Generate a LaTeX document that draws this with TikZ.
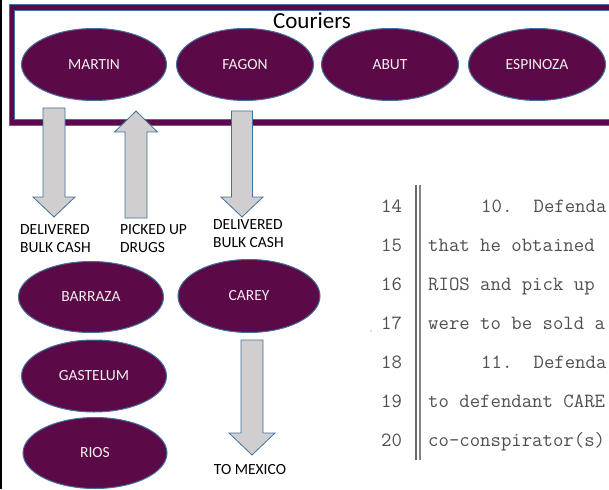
\documentclass[tikz,border=0pt]{standalone}
\usepackage{fontspec}
\setmainfont{Carlito}
\usetikzlibrary{shapes.geometric}

\definecolor{plum}{HTML}{5C0A47}
\definecolor{rimblue}{HTML}{41719C}
\definecolor{shaftgray}{HTML}{D0CECE}
\definecolor{scanink}{HTML}{505050}

\tikzset{
  courier/.style={ellipse, draw=rimblue, line width=1pt, fill=plum,
    text=white!94!black, inner sep=0pt,
    font=\fontsize{15.5}{18}\selectfont},
  tag/.style={anchor=north west, align=left, inner sep=0pt,
    font=\fontsize{15.5}{18.5}\selectfont},
  blockarrow/.style={fill=shaftgray, draw=rimblue, line width=0.8pt,
    line join=miter},
  scantext/.style={anchor=base west, inner sep=0pt, text=scanink,
    font=\ttfamily\fontsize{20.2}{20.2}\selectfont},
  scanrule/.style={draw=scanink!85, line width=1.6pt},
}

% block arrow: centre x, shaft end, head base, tip, shaft half width, head half width
\newcommand\blockarrow[6]{%
  \draw[blockarrow] (#1-#5,#2) -- (#1+#5,#2) -- (#1+#5,#3) -- (#1+#6,#3)
    -- (#1,#4) -- (#1-#6,#3) -- (#1-#5,#3) -- cycle;}

\begin{document}
\begin{tikzpicture}[x=1pt, y=-1pt]
  \useasboundingbox (0,0) rectangle (609,489);
  \clip (0,0) rectangle (609,489);
  \fill[white] (0,0) rectangle (609,489);

  % left page edge
  \draw[black, line width=2pt] (1,0) -- (1,489);

  % couriers frame: purple band with thin blue rims
  \draw[plum, line width=5.6pt] (12,7.6) rectangle (640,122.2);
  \draw[rimblue, line width=0.7pt] (9.2,4.8) rectangle (640,125);
  \draw[rimblue, line width=0.7pt] (14.8,10.4) rectangle (640,119.4);
  \node[anchor=base, inner sep=0pt, font=\fontsize{23}{23}\selectfont]
    (title) at (312,29) {Couriers};

  % couriers
  \node[courier, minimum width=145pt, minimum height=72pt] (martin)   at (94,64.5)  {MARTIN};
  \node[courier, minimum width=137pt, minimum height=72pt] (fagon)    at (245,64.5) {FAGON};
  \node[courier, minimum width=137pt, minimum height=72pt] (abut)     at (390,64.5) {ABUT};
  \node[courier, minimum width=137pt, minimum height=72pt] (espinoza) at (537,64.5) {ESPINOZA};

  % receivers and suppliers
  \node[courier, minimum width=145pt, minimum height=71pt] (barraza)  at (91,297)  {BARRAZA};
  \node[courier, minimum width=142pt, minimum height=73pt] (carey)    at (249,296) {CAREY};
  \node[courier, minimum width=145pt, minimum height=72pt] (gastelum) at (94,376)  {GASTELUM};
  \node[courier, minimum width=144pt, minimum height=71pt] (rios)     at (95,453)  {RIOS};

  % movement arrows
  \blockarrow{54}{108}{197}{217}{11}{21}
  \blockarrow{136}{218}{132}{111}{11}{21.5}
  \blockarrow{242}{111}{197}{217}{10.5}{21}
  \blockarrow{252}{340}{433}{455}{11}{23}

  % arrow captions
  \node[tag] (cash1) at (20,224)  {DELIVERED\\BULK CASH};
  \node[tag] (drugs) at (120,224) {PICKED UP\\DRUGS};
  \node[tag] (cash2) at (213,219) {DELIVERED\\BULK CASH};
  \node[tag, anchor=center] (mexico) at (250,470) {TO MEXICO};

  % excerpt of the pleading page
  \draw[scanrule] (416,185) -- (416,460);
  \draw[scanrule, draw=scanink!70] (420,185) -- (420,460);
  \fill[scanink!40] (371,331) circle (0.8);

  \node[scantext] (n14) at (381,212) {14};
  \node[scantext] (n15) at (381,251) {15};
  \node[scantext] (n16) at (381,290) {16};
  \node[scantext] (n17) at (381,329) {17};
  \node[scantext] (n18) at (381,368) {18};
  \node[scantext] (n19) at (381,407) {19};
  \node[scantext] (n20) at (381,446) {20};

  \node[scantext] (t14) at (481,212) {10.\hspace*{21.2pt}Defenda};
  \node[scantext] (t15) at (428,251) {that he obtained};
  \node[scantext] (t16) at (428,290) {RIOS and pick up};
  \node[scantext] (t17) at (428,329) {were to be sold a};
  \node[scantext] (t18) at (481,368) {11.\hspace*{21.2pt}Defenda};
  \node[scantext] (t19) at (428,407) {to defendant CARE};
  \node[scantext] (t20) at (428,446) {co-conspirator(s)};
\end{tikzpicture}
\end{document}
